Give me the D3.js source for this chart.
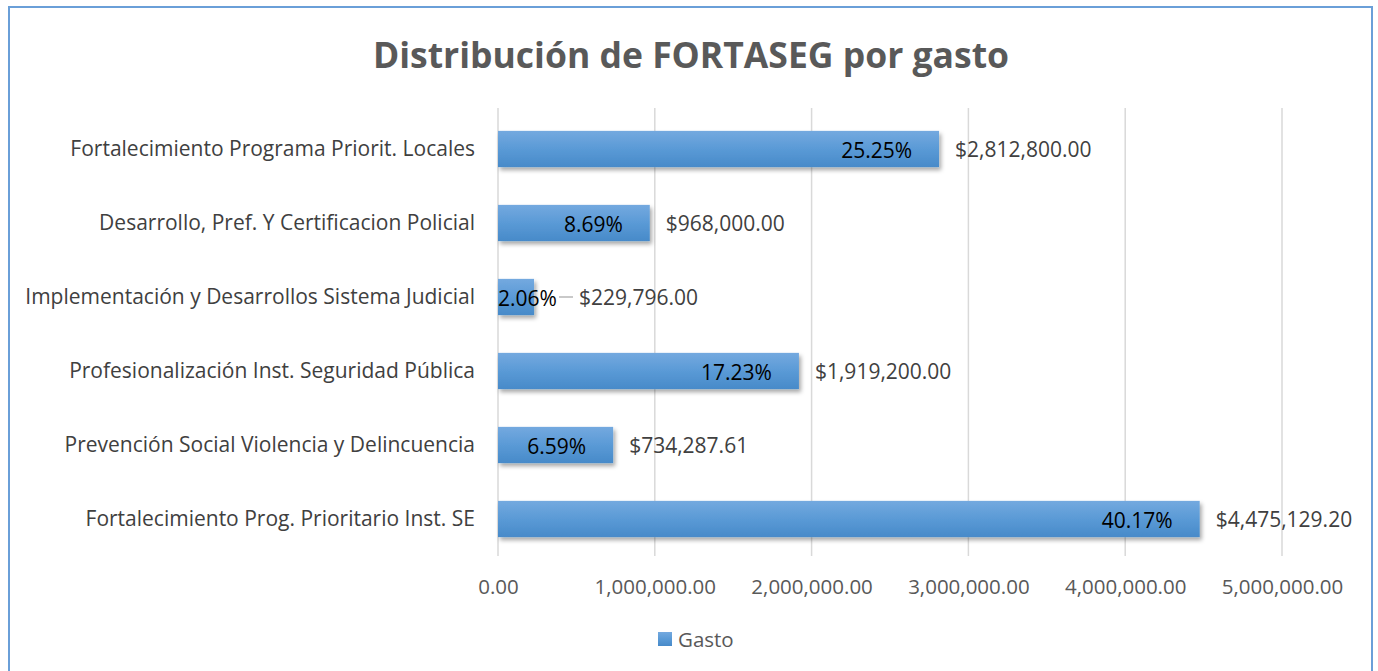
<!DOCTYPE html>
<html>
<head>
<meta charset="utf-8">
<script src="https://cdn.jsdelivr.net/npm/d3@7"></script>
<style>
  body { margin: 0; background: #fff; }
  svg { display: block; font-family: "Open Sans", "Noto Sans", sans-serif; }
</style>
</head>
<body>
<div id="chart"></div>
<script>

var categories = [
  "Fortalecimiento Programa Priorit. Locales",
  "Desarrollo, Pref. Y Certificacion Policial",
  "Implementación y Desarrollos Sistema Judicial",
  "Profesionalización Inst. Seguridad Pública",
  "Prevención Social Violencia y Delincuencia",
  "Fortalecimiento Prog. Prioritario Inst. SE"
];
var gasto = [2812800.00, 968000.00, 229796.00, 1919200.00, 734287.61, 4475129.20];
var percents = ["25.25%", "8.69%", "2.06%", "17.23%", "6.59%", "40.17%"];
var xTicks = [0, 1000000, 2000000, 3000000, 4000000, 5000000];

var W = 1378, H = 671;
var plot = {left: 498, right: 1282, top: 112, bottom: 556};
var FONT = "'Open Sans', 'Noto Sans', sans-serif";

var svg = d3.select("#chart").append("svg")
  .attr("width", W).attr("height", H);

var defs = svg.append("defs");
var grad = defs.append("linearGradient")
  .attr("id", "barGrad").attr("x1", 0).attr("y1", 0).attr("x2", 0).attr("y2", 1);
grad.append("stop").attr("offset", "0%").attr("stop-color", "#74a9df");
grad.append("stop").attr("offset", "50%").attr("stop-color", "#5a9ad6");
grad.append("stop").attr("offset", "100%").attr("stop-color", "#478ac9");

var shadow = defs.append("filter").attr("id", "shadow")
  .attr("x", "-5%").attr("y", "-20%").attr("width", "120%").attr("height", "160%");
shadow.append("feDropShadow")
  .attr("dx", 2).attr("dy", 3).attr("stdDeviation", 2)
  .attr("flood-color", "#000").attr("flood-opacity", 0.35);

// outer frame
svg.append("rect")
  .attr("x", 9).attr("y", 7).attr("width", 1363).attr("height", 680)
  .attr("fill", "#fff").attr("stroke", "#6a9fd8").attr("stroke-width", 2);

// title
svg.append("text")
  .attr("x", 691).attr("y", 68)
  .attr("text-anchor", "middle")
  .attr("font-size", 35.5).attr("font-weight", "bold")
  .attr("fill", "#595959")
  .text("Distribución de FORTASEG por gasto");

var x = d3.scaleLinear().domain([0, 5000000]).range([plot.left, plot.right]);
var y = d3.scaleBand().domain(categories).range([plot.top, plot.bottom]).paddingInner(0.51).paddingOuter(0.255);

// gridlines
svg.append("g").selectAll("line")
  .data(xTicks)
  .join("line")
  .attr("x1", function(d) { return x(d); })
  .attr("x2", function(d) { return x(d); })
  .attr("y1", plot.top - 4).attr("y2", plot.bottom)
  .attr("stroke", "#d9d9d9").attr("stroke-width", 1.5);

// x axis labels
var fmt = d3.format(",.2f");
var xAxis = d3.axisBottom(x).tickValues(xTicks).tickFormat(fmt).tickSize(0).tickPadding(23);
var gx = svg.append("g")
  .attr("transform", "translate(0," + plot.bottom + ")")
  .call(xAxis);
gx.select(".domain").remove();
gx.selectAll("text")
  .attr("font-size", 20.5).attr("fill", "#595959")
  .attr("font-family", FONT);

// category axis
var yAxis = d3.axisLeft(y).tickSize(0).tickPadding(23);
var gy = svg.append("g")
  .attr("transform", "translate(" + plot.left + ",0)")
  .call(yAxis);
gy.select(".domain").remove();
gy.selectAll("text")
  .attr("font-size", 21).attr("fill", "#404040")
  .attr("font-family", FONT);

// bars
svg.append("g").selectAll("rect")
  .data(gasto)
  .join("rect")
  .attr("x", x(0))
  .attr("y", function(d, i) { return y(categories[i]); })
  .attr("width", function(d) { return x(d) - x(0); })
  .attr("height", y.bandwidth())
  .attr("fill", "url(#barGrad)")
  .attr("filter", "url(#shadow)");

// percent labels (inside end)
var pct = svg.append("g").selectAll("text")
  .data(percents)
  .join("text")
  .attr("y", function(d, i) { return y(categories[i]) + y.bandwidth() / 2 + 9; })
  .attr("font-size", 21).attr("fill", "#000")
  .text(function(d) { return d; });
pct.each(function(d, i) {
  var w = this.getComputedTextLength();
  var endX = x(gasto[i]) - 27;
  var startX = Math.max(x(0), endX - w);
  d3.select(this).attr("x", startX);
});

// value labels (outside end)
var money = d3.format("$,.2f");
var valueOffset = function(d) { return x(d) - x(0) < 60 ? 45 : 16; };
svg.append("g").selectAll("text")
  .data(gasto)
  .join("text")
  .attr("x", function(d) { return x(d) + valueOffset(d); })
  .attr("y", function(d, i) { return y(categories[i]) + y.bandwidth() / 2 + 8; })
  .attr("font-size", 21).attr("fill", "#404040")
  .text(function(d) { return money(d); });

// leader line for the small bar
svg.append("g").selectAll("line")
  .data(gasto.filter(function(d) { return x(d) - x(0) < 60; }))
  .join("line")
  .attr("x1", function(d) { return x(d) + 25; })
  .attr("x2", function(d) { return x(d) + 39; })
  .attr("y1", function(d) { return y(categories[gasto.indexOf(d)]) + y.bandwidth() / 2; })
  .attr("y2", function(d) { return y(categories[gasto.indexOf(d)]) + y.bandwidth() / 2; })
  .attr("stroke", "#a6a6a6").attr("stroke-width", 1.2);

// legend
var legend = svg.append("g").attr("transform", "translate(658,632)");
legend.append("rect").attr("width", 14).attr("height", 14).attr("fill", "url(#barGrad)");
legend.append("text").attr("x", 20).attr("y", 15)
  .attr("font-size", 20.5).attr("fill", "#595959").text("Gasto");

</script>
</body>
</html>
